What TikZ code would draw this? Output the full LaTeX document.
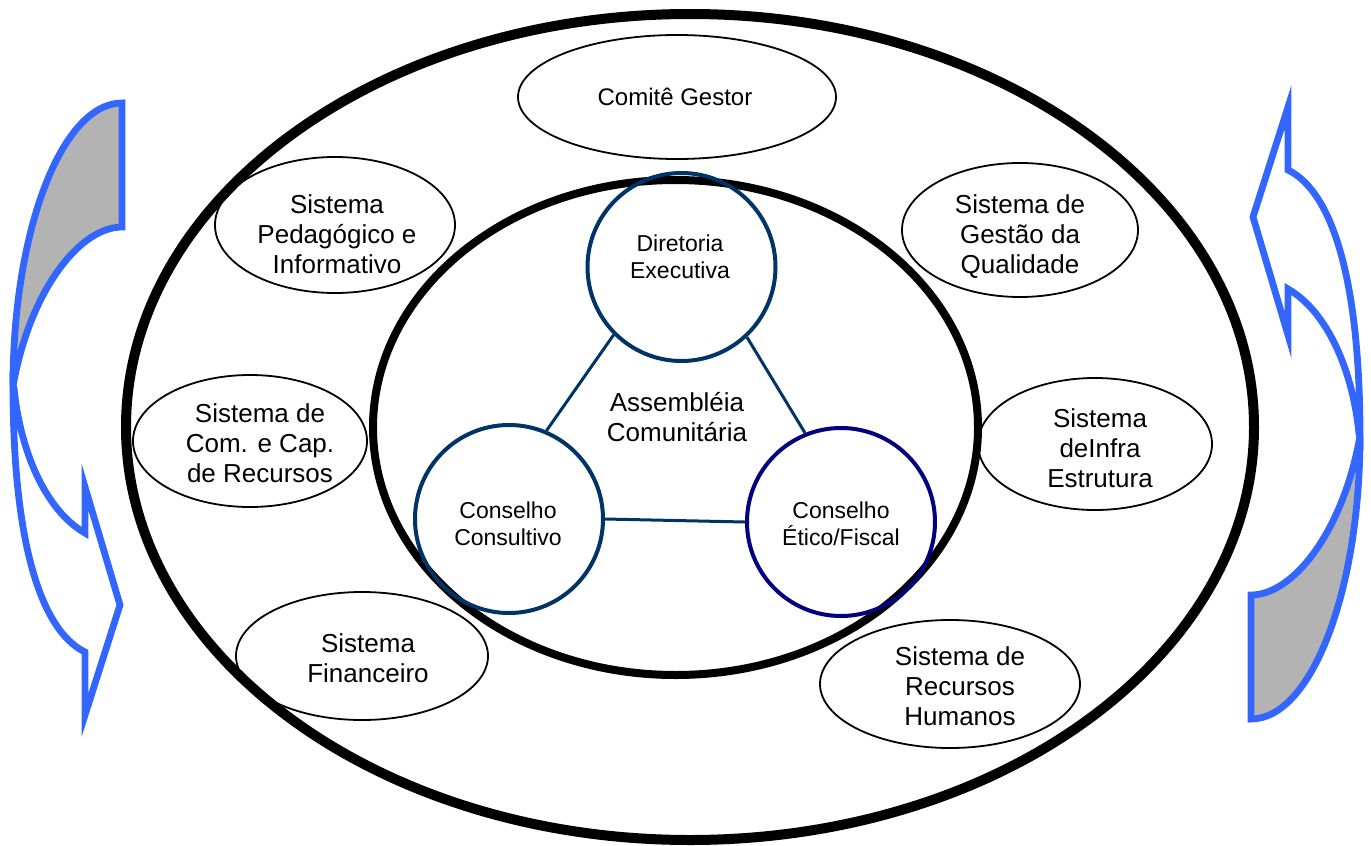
\documentclass[tikz,border=0pt]{standalone}
\usepackage{fontspec}
\setmainfont{Liberation Sans}
\usetikzlibrary{shapes.geometric}
\definecolor{arrowblue}{RGB}{51,102,255}
\definecolor{backgray}{RGB}{179,179,179}
\definecolor{circblue}{RGB}{0,51,102}
\definecolor{circnavy}{RGB}{0,0,128}
\newcommand\cyclearrow{%
  \filldraw[arrowline, fill=backgray] (122,103) .. controls (62,103) and (13,230) .. (13,386)
     .. controls (30,290) and (80,227) .. (122,227) -- cycle;
  \filldraw[arrowline, fill=white] (13,386) .. controls (13,540) and (40,630) .. (85,652)
     -- (85,715) -- (120,605) -- (85,487) -- (85,533)
     .. controls (45,510) and (20,450) .. (14,388) -- cycle;
}
\begin{document}
\begin{tikzpicture}[x=0.5pt,y=-0.5pt,
  bigell/.style={draw=black, ellipse, inner sep=0pt},
  sysell/.style={draw=black, line width=0.9pt, ellipse, inner sep=0pt},
  systext/.style={align=center, font=\fontsize{13}{15}\selectfont, inner sep=0pt},
  circ/.style={line width=2pt, circle, inner sep=0pt, minimum size=94pt},
  ctext/.style={align=center, font=\fontsize{11.5}{13.5}\selectfont, inner sep=0pt},
  conn/.style={draw=circblue, line width=1.5pt},
  arrowline/.style={draw=arrowblue, line width=3.4pt, miter limit=10}
]
\useasboundingbox (0,0) rectangle (1371,846);

% rings
\node[bigell, line width=5pt, minimum width=564pt, minimum height=413pt] (outer) at (690,427) {};
\node[bigell, line width=4pt, minimum width=302.5pt, minimum height=247.5pt] (inner) at (675.5,427.5) {};

% outer systems
\node[sysell, minimum width=159pt, minimum height=62pt] (cg) at (677,97) {};
\node[ctext, font=\fontsize{12}{14}\selectfont] (cgt) at (675,97) {Comitê Gestor};

\node[sysell, minimum width=120pt, minimum height=68pt] (ped) at (335,225) {};
\node[systext] (pedt) at (337,234) {Sistema\\Pedagógico e\\Informativo};

\node[sysell, minimum width=118pt, minimum height=67pt] (gq) at (1020,230) {};
\node[systext] (gqt) at (1020,237) {Sistema de\\Gestão da\\Qualidade};

\node[sysell, minimum width=117pt, minimum height=66pt] (cc) at (250,441) {};
\node[systext] (cct) at (260,443) {Sistema de\\Com. e Cap.\\de Recursos};

\node[sysell, minimum width=117pt, minimum height=66pt] (ie) at (1095,444) {};
\node[systext] (iet) at (1100,448) {Sistema\\deInfra\\Estrutura};

\node[sysell, minimum width=126pt, minimum height=64pt] (fin) at (362,656) {};
\node[systext] (fint) at (368,658) {Sistema\\Financeiro};

\node[sysell, minimum width=130pt, minimum height=64pt] (rh) at (950,684) {};
\node[systext] (rht) at (960,686) {Sistema de\\Recursos\\Humanos};

% inner councils
\node[circ, draw=circblue] (dir) at (681.5,267) {};
\node[ctext] (dirt) at (680,257) {Diretoria\\Executiva};

\node[circ, draw=circblue] (cons) at (509,519) {};
\node[ctext] (const) at (508,524) {Conselho\\Consultivo};

\node[circ, draw=circnavy] (eti) at (841,522) {};
\node[ctext] (etit) at (841,524) {Conselho\\Ético/Fiscal};

\node[align=center, font=\fontsize{13}{15.3}\selectfont, inner sep=0pt] (ass) at (677,417) {Assembléia\\Comunitária};

\draw[conn] (dir.225) -- (cons.67);
\draw[conn] (dir.313) -- (eti.112);
\draw[conn] (cons.east) -- (eti.west);

% cycle arrows
\cyclearrow
\begin{scope}[shift={(1373,822)}, scale=-1]
\cyclearrow
\end{scope}
\end{tikzpicture}
\end{document}
